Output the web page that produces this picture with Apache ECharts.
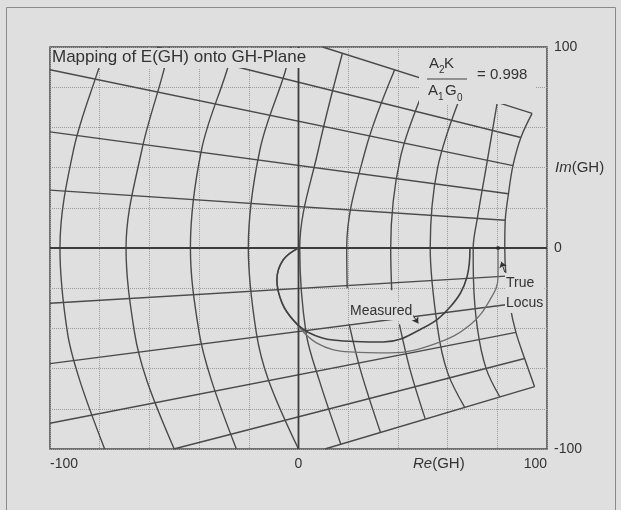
<!DOCTYPE html>
<html>
<head>
<meta charset="utf-8">
<title>Mapping of E(GH) onto GH-Plane</title>
<script src="https://cdn.jsdelivr.net/npm/echarts@6/dist/echarts.min.js"></script>
<style>
html, body { margin: 0; padding: 0; background: #e2e2e2; }
#chart { width: 621px; height: 510px; }
</style>
</head>
<body>
<div id="chart"></div>
<script>
// axes
const axisMin = -100
const axisMax = 100
const gridStep = 20
const shownTicks = [-100, 0, 100]

// loci, [Re, Im]
const measuredLocus = [[0, 0], [-6.2, -6], [-8.7, -15.9], [-6.6, -27.4], [-2, -36], [4, -42], [13.9, -45.8], [34, -46.8], [50.1, -39.8], [61, -29.4], [67.8, -14.4], [69, 0]]
const trueLocus = [[0, 0], [-6.2, -6], [-8.7, -15.9], [-6.6, -27.4], [-2, -36], [7.4, -47.3], [20.7, -51.7], [36.8, -52.2], [55.7, -47.3], [69, -38.3], [77, -25.9], [80.3, -14.4], [80.3, 0]]

// mapped grid: images of the Re = const lines (arcs); null = gap in the print
const arc1 = [[-77, 100], [-81, 87], [-90.5, 49], [-96, 0], [-93, -42], [-88, -66], [-78, -100]]
const arc2 = [[-52, 100], [-54.5, 87], [-63, 49], [-69.4, 0], [-66, -42], [-61, -66], [-50, -100]]
const arc3 = [[-26, 100], [-29, 87.6], [-39, 49], [-43.5, 0], [-40, -42], [-35, -66], [-25, -100]]
const arc4 = [[-3, 100], [-5.4, 87.6], [-15.5, 49], [-20.2, 0], [-17, -42], [-12, -66], [0, -100]]
const arc5 = [[17.7, 97], [8, 49], [0.5, 0], [3, -42], [8.4, -66], [17, -97.5]]
const arc6 = [[38.7, 88.7], [27, 49], [19.4, 0], [19.6, -20], null, [20.4, -38], [25, -61], [33, -91.8]]
const arc7 = [[52, 83.5], [41, 45], [37.1, 0], [37.5, -21], null, [40.6, -38], [45, -61], [51, -85]]
const arc8 = [[66, 78], [56, 40], [53, 0], [56, -40], [60, -62], [67, -79.5]]
const arc9 = [[80, 72.6], [75.5, 40], [72, 15], [70.3, 0], [70.4, -15], [72, -40], [75.5, -60], [81, -74]]
const arc10 = [[94, 67], [89.5, 55], [86.3, 41], [84.5, 27], [83.2, 13.8], [83, 0], [83.5, -14], [85, -28], [87.5, -42], [91, -55], [95, -69]]

// images of the Im = const lines (straight rays)
const rayA = [[9.7, 100], [94, 67]]
const rayB = [[-57, 100], [89.5, 55]]
const rayC = [[-100, 88.7], [86.3, 41]]
const rayD = [[-100, 57.8], [84.5, 27]]
const rayE = [[-100, 28.8], [83.2, 13.8]]
const rayF = [[-100, -27.5], [83.5, -14]]
const rayG = [[-100, -57.5], [85, -28]]
const rayH = [[-100, -87.2], [87.5, -42]]
const rayI = [[-50.2, -100], [91, -55]]
const rayJ = [[10.6, -100], [95, -69]]

// real and imaginary axes
const reAxis = [[-100, 0], [100, 0]]
const imAxis = [[0, -100], [0, 100]]

// leader arrows: [from, to]
const measuredArrow = [[46, -33.3], [48.2, -37.5]]
const trueArrow = [[83, -12], [81.6, -6.8]]

const arcs = [arc1, arc2, arc3, arc4, arc5, arc6, arc7, arc8, arc9, arc10]
const rays = [rayA, rayB, rayC, rayD, rayE, rayF, rayG, rayH, rayI, rayJ]

const bg = '#dfdfdf'
const ink = '#4a4a4a'
const font = 'Liberation Sans, Arial, sans-serif'

const chart = echarts.init(document.getElementById('chart'))

const series = []
arcs.forEach(a => {
    series.push({
        type: 'line', data: a.map(p => p || '-'), smooth: 0.35, showSymbol: false, silent: true,
        connectNulls: false, lineStyle: { color: ink, width: 1.4 }
    })
})
rays.forEach(r => {
    series.push({
        type: 'line', data: r, showSymbol: false, silent: true,
        lineStyle: { color: ink, width: 1.4 }
    })
})
;[reAxis, imAxis].forEach(a => {
    series.push({
        type: 'line', data: a, showSymbol: false, silent: true,
        lineStyle: { color: '#3c3c3c', width: 1.8 }
    })
})
series.push({
    name: 'True Locus', type: 'line', data: trueLocus, smooth: 0.4, showSymbol: false,
    lineStyle: { color: '#707070', width: 1.3 }, z: 4
})
series.push({
    name: 'Measured', type: 'line', data: measuredLocus, smooth: 0.4, showSymbol: false,
    lineStyle: { color: '#404040', width: 1.6 }, z: 5
})
// end point of the true locus + leader arrows
series.push({
    type: 'scatter', data: [trueLocus[trueLocus.length - 1]], symbolSize: 4,
    itemStyle: { color: '#222' }, z: 6,
    markLine: {
        silent: true, symbol: ['none', 'arrow'], symbolSize: 6,
        label: { show: false },
        lineStyle: { color: '#333', width: 1, type: 'solid' },
        data: [
            [{ coord: measuredArrow[0] }, { coord: measuredArrow[1] }],
            [{ coord: trueArrow[0] }, { coord: trueArrow[1] }]
        ]
    }
})

const axisLabelStyle = { color: '#333', fontSize: 14, fontFamily: font }

chart.setOption({
    backgroundColor: bg,
    animation: false,
    grid: {
        left: 50, right: 74, top: 47, bottom: 61,
        show: true, borderColor: '#4a4a4a', borderWidth: 1.5, backgroundColor: bg
    },
    xAxis: {
        type: 'value', min: axisMin, max: axisMax, interval: gridStep,
        axisLine: { show: false }, axisTick: { show: false },
        axisLabel: Object.assign({
            margin: 8, alignMinLabel: 'left', alignMaxLabel: 'right',
            formatter: v => shownTicks.includes(v) ? String(v) : ''
        }, axisLabelStyle),
        splitLine: { lineStyle: { color: '#9c9c9c', type: 'dotted', width: 1 } }
    },
    yAxis: {
        type: 'value', position: 'right', min: axisMin, max: axisMax, interval: gridStep,
        axisLine: { show: false }, axisTick: { show: false },
        axisLabel: Object.assign({
            margin: 7, alignMinLabel: 'bottom', alignMaxLabel: 'top',
            formatter: v => shownTicks.includes(v) ? String(v) : ''
        }, axisLabelStyle),
        splitLine: { lineStyle: { color: '#9c9c9c', type: 'dotted', width: 1 } }
    },
    series: series,
    graphic: [
        // outer frame of the figure
        { type: 'rect', z: 1, silent: true, shape: { x: 6.5, y: 7.5, width: 609, height: 520 },
          style: { fill: null, stroke: '#8a8a8a', lineWidth: 1 } },
        // title, on its own patch of paper
        { type: 'text', z: 50, left: 51, top: 48,
          style: { text: 'Mapping of E(GH) onto GH-Plane', font: '17px ' + font, fill: '#333',
                   backgroundColor: bg, padding: [1, 3, 2, 1] } },
        // fraction
        { type: 'rect', z: 49, silent: true, shape: { x: 419, y: 49, width: 116, height: 55 },
          style: { fill: bg } },
        { type: 'text', z: 50, left: 429, top: 56, style: { text: 'A', font: '15px ' + font, fill: '#333' } },
        { type: 'text', z: 50, left: 439, top: 65, style: { text: '2', font: '10px ' + font, fill: '#333' } },
        { type: 'text', z: 50, left: 444, top: 56, style: { text: 'K', font: '15px ' + font, fill: '#333' } },
        { type: 'line', z: 50, shape: { x1: 427, y1: 79, x2: 467, y2: 79 }, style: { stroke: '#444', lineWidth: 1.2 } },
        { type: 'text', z: 50, left: 428, top: 83, style: { text: 'A', font: '15px ' + font, fill: '#333' } },
        { type: 'text', z: 50, left: 438, top: 92, style: { text: '1', font: '10px ' + font, fill: '#333' } },
        { type: 'text', z: 50, left: 445, top: 83, style: { text: 'G', font: '15px ' + font, fill: '#333' } },
        { type: 'text', z: 50, left: 457, top: 93, style: { text: '0', font: '10px ' + font, fill: '#333' } },
        { type: 'text', z: 50, left: 477, top: 67, style: { text: '= 0.998', font: '15px ' + font, fill: '#333' } },
        // axis names
        { type: 'text', z: 50, left: 413, top: 456,
          style: { text: '{i|Re}(GH)', font: '15px ' + font, fill: '#333',
                   rich: { i: { fontStyle: 'italic', fontSize: 15, fontFamily: font, fill: '#333' } } } },
        { type: 'text', z: 50, left: 555, top: 160,
          style: { text: '{i|Im}(GH)', font: '15px ' + font, fill: '#333',
                   rich: { i: { fontStyle: 'italic', fontSize: 15, fontFamily: font, fill: '#333' } } } },
        // curve labels
        { type: 'text', z: 50, left: 349, top: 303,
          style: { text: 'Measured', font: '14px ' + font, fill: '#333', backgroundColor: bg, padding: [1, 1, 2, 1] } },
        { type: 'text', z: 50, left: 505, top: 273,
          style: { text: 'True\nLocus', font: '14px ' + font, fill: '#333', lineHeight: 20,
                   backgroundColor: bg, padding: [0, 1, 0, 1] } }
    ]
})
</script>
</body>
</html>
